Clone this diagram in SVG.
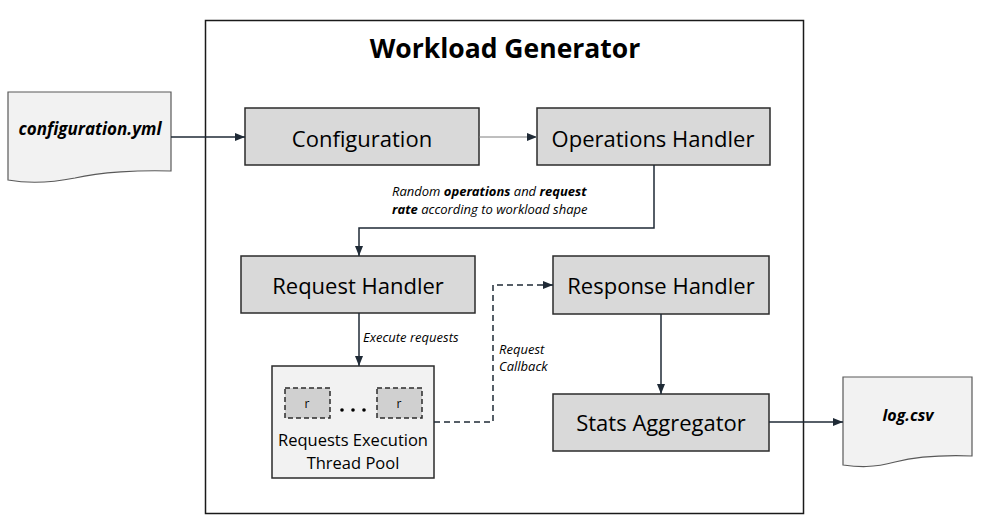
<svg xmlns="http://www.w3.org/2000/svg" width="990" height="522" viewBox="0 0 990 522">
<style>
text{font-family:"Open Sans","Noto Sans","Liberation Sans",sans-serif;fill:#000}
.box{fill:#d9d9d9;stroke:#2b2b2b;stroke-width:1.5}
.lbl{font-size:22px;text-anchor:middle}
.doc{fill:#f2f2f2;stroke:#595959;stroke-width:1.2}
.ln{fill:none;stroke:#1f2a36;stroke-width:1.5}
.it{font-size:13px;font-style:italic}
</style>
<defs>
<marker id="ah" viewBox="0 0 10 10" refX="10" refY="5" markerWidth="10" markerHeight="10" markerUnits="userSpaceOnUse" orient="auto"><path d="M0,1 L10,5 L0,9 z" fill="#1f2a36"/></marker>
</defs>
<rect x="0" y="0" width="990" height="522" fill="#fff"/>
<g id="frame">
<rect x="205.5" y="20.5" width="598" height="493" fill="#fff" stroke="#1a1a1a" stroke-width="1.5"/>
<text x="505" y="58" font-size="26.5" font-weight="bold" text-anchor="middle">Workload Generator</text>
</g>
<g id="configyml">
<path class="doc" d="M8,92 H171 V171 C140,170 100,172 75,178 C45,184 25,183 8,180 Z"/>
<text x="90" y="135" font-size="17" font-weight="bold" font-style="italic" text-anchor="middle">configuration.yml</text>
</g>
<g id="logcsv">
<path class="doc" d="M843,377 H972 V456 C945,455 915,457 895,462 C873,468 858,467 843,465 Z"/>
<text x="908" y="421" font-size="16" font-weight="bold" font-style="italic" text-anchor="middle">log.csv</text>
</g>
<g id="configuration"><rect class="box" x="245" y="108" width="234" height="57"/><text class="lbl" x="362" y="147">Configuration</text></g>
<g id="operations"><rect class="box" x="537" y="108" width="233" height="57"/><text class="lbl" x="653" y="147">Operations Handler</text></g>
<g id="request"><rect class="box" x="241" y="256" width="234" height="57"/><text class="lbl" x="358" y="294">Request Handler</text></g>
<g id="response"><rect class="box" x="553" y="256" width="216" height="58"/><text class="lbl" x="661" y="294">Response Handler</text></g>
<g id="stats"><rect class="box" x="553" y="394" width="216" height="57"/><text class="lbl" x="661" y="431">Stats Aggregator</text></g>
<g id="threadpool">
<rect x="272" y="366" width="162" height="112" fill="#f2f2f2" stroke="#2b2b2b" stroke-width="1.5"/>
<rect x="285" y="388" width="45" height="30" fill="#d0d0d0" stroke="#2b2b2b" stroke-width="1.5" stroke-dasharray="5,3"/>
<rect x="377" y="388" width="45" height="30" fill="#d0d0d0" stroke="#2b2b2b" stroke-width="1.5" stroke-dasharray="5,3"/>
<text x="307" y="408" font-size="12" text-anchor="middle">r</text>
<text x="399" y="408" font-size="12" text-anchor="middle">r</text>
<circle cx="342" cy="410" r="1.8" fill="#000"/><circle cx="353" cy="410" r="1.8" fill="#000"/><circle cx="364" cy="410" r="1.8" fill="#000"/>
<text x="353" y="446" font-size="16.5" text-anchor="middle">Requests Execution</text>
<text x="353" y="469" font-size="16.5" text-anchor="middle">Thread Pool</text>
</g>
<g id="connectors">
<path class="ln" d="M171,137 H245" marker-end="url(#ah)"/>
<path d="M479,137 H537" fill="none" stroke="#7f7f7f" stroke-width="1" marker-end="url(#ah)"/>
<path class="ln" d="M654,165 V228 H359 V256" marker-end="url(#ah)"/>
<path class="ln" d="M359,313 V366" marker-end="url(#ah)"/>
<path class="ln" d="M434,422 H493 V285 H553" stroke-dasharray="6,4" marker-end="url(#ah)"/>
<path class="ln" d="M661,314 V394" marker-end="url(#ah)"/>
<path class="ln" d="M769,422 H843" marker-end="url(#ah)"/>
<text class="it" x="392" y="196">Random <tspan font-weight="bold">operations</tspan> and <tspan font-weight="bold">request</tspan></text>
<text class="it" x="392" y="214"><tspan font-weight="bold">rate</tspan> according to workload shape</text>
<text class="it" x="363" y="342">Execute requests</text>
<text class="it" x="499" y="354">Request</text>
<text class="it" x="499" y="371">Callback</text>
</g>
</svg>
